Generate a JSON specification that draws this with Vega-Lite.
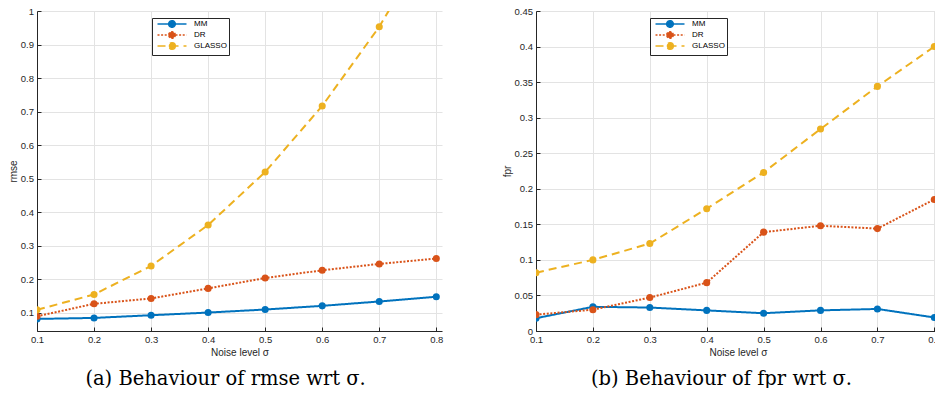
{
  "$schema": "https://vega.github.io/schema/vega-lite/v6.json",
  "background": "white",
  "padding": {"left": 8, "top": 6, "right": 0, "bottom": 0},
  "config": {
    "view": {"stroke": null},
    "font": "Liberation Sans",
    "axis": {
      "domainColor": "#262626", "domainWidth": 1, "tickColor": "#262626", "tickSize": -4, "tickWidth": 1,
      "gridColor": "#e3e3e3", "gridWidth": 1,
      "labelColor": "#262626", "labelFontSize": 9.5, "labelFont": "Liberation Sans",
      "titleColor": "#262626", "titleFontSize": 10, "titleFontWeight": "normal", "titleFont": "Liberation Sans",
      "labelFlush": false, "labelOverlap": false
    },
    "axisX": {"labelPadding": 7, "titlePadding": 4},
    "axisY": {"labelPadding": 7.5, "titlePadding": 2},
    "legend": {
      "orient": "none", "legendX": 115, "legendY": 7, "title": null,
      "fillColor": "white", "strokeColor": "#262626", "padding": 2,
      "symbolType": "M-4.83,0L4.83,0M1.1,0C1.1,0.6075,0.6075,1.1,0,1.1C-0.6075,1.1,-1.1,0.6075,-1.1,0C-1.1,-0.6075,-0.6075,-1.1,0,-1.1C0.6075,-1.1,1.1,-0.6075,1.1,0Z",
      "symbolSize": 36, "symbolStrokeWidth": 1.5,
      "labelFontSize": 8, "labelColor": "black", "labelFont": "Liberation Sans",
      "rowPadding": -6, "symbolOffset": 14, "labelOffset": 18
    },
    "title": {"font": "DejaVu Serif", "fontSize": 19.5, "fontWeight": "normal", "color": "black"}
  },
  "datasets": {
    "rmse": [
      {"sigma": 0.1, "method": "MM", "value": 0.082},
      {"sigma": 0.2, "method": "MM", "value": 0.085},
      {"sigma": 0.3, "method": "MM", "value": 0.093},
      {"sigma": 0.4, "method": "MM", "value": 0.101},
      {"sigma": 0.5, "method": "MM", "value": 0.110},
      {"sigma": 0.6, "method": "MM", "value": 0.121},
      {"sigma": 0.7, "method": "MM", "value": 0.134},
      {"sigma": 0.8, "method": "MM", "value": 0.148},
      {"sigma": 0.1, "method": "DR", "value": 0.090},
      {"sigma": 0.2, "method": "DR", "value": 0.127},
      {"sigma": 0.3, "method": "DR", "value": 0.143},
      {"sigma": 0.4, "method": "DR", "value": 0.173},
      {"sigma": 0.5, "method": "DR", "value": 0.204},
      {"sigma": 0.6, "method": "DR", "value": 0.227},
      {"sigma": 0.7, "method": "DR", "value": 0.246},
      {"sigma": 0.8, "method": "DR", "value": 0.262},
      {"sigma": 0.1, "method": "GLASSO", "value": 0.109},
      {"sigma": 0.2, "method": "GLASSO", "value": 0.155},
      {"sigma": 0.3, "method": "GLASSO", "value": 0.240},
      {"sigma": 0.4, "method": "GLASSO", "value": 0.362},
      {"sigma": 0.5, "method": "GLASSO", "value": 0.520},
      {"sigma": 0.6, "method": "GLASSO", "value": 0.717},
      {"sigma": 0.7, "method": "GLASSO", "value": 0.953},
      {"sigma": 0.8, "method": "GLASSO", "value": 1.24}
    ],
    "fpr": [
      {"sigma": 0.1, "method": "MM", "value": 0.018},
      {"sigma": 0.2, "method": "MM", "value": 0.034},
      {"sigma": 0.3, "method": "MM", "value": 0.033},
      {"sigma": 0.4, "method": "MM", "value": 0.029},
      {"sigma": 0.5, "method": "MM", "value": 0.025},
      {"sigma": 0.6, "method": "MM", "value": 0.029},
      {"sigma": 0.7, "method": "MM", "value": 0.031},
      {"sigma": 0.8, "method": "MM", "value": 0.019},
      {"sigma": 0.1, "method": "DR", "value": 0.023},
      {"sigma": 0.2, "method": "DR", "value": 0.030},
      {"sigma": 0.3, "method": "DR", "value": 0.047},
      {"sigma": 0.4, "method": "DR", "value": 0.068},
      {"sigma": 0.5, "method": "DR", "value": 0.139},
      {"sigma": 0.6, "method": "DR", "value": 0.148},
      {"sigma": 0.7, "method": "DR", "value": 0.144},
      {"sigma": 0.8, "method": "DR", "value": 0.185},
      {"sigma": 0.1, "method": "GLASSO", "value": 0.082},
      {"sigma": 0.2, "method": "GLASSO", "value": 0.100},
      {"sigma": 0.3, "method": "GLASSO", "value": 0.123},
      {"sigma": 0.4, "method": "GLASSO", "value": 0.172},
      {"sigma": 0.5, "method": "GLASSO", "value": 0.223},
      {"sigma": 0.6, "method": "GLASSO", "value": 0.284},
      {"sigma": 0.7, "method": "GLASSO", "value": 0.344},
      {"sigma": 0.8, "method": "GLASSO", "value": 0.400}
    ]
  },
  "spacing": 59,
  "resolve": {"legend": {"color": "independent", "strokeDash": "independent"}},
  "hconcat": [
    {
      "width": 405, "height": 320,
      "data": {"name": "rmse"},
      "title": {"text": "(a) Behaviour of rmse wrt σ.", "orient": "bottom", "anchor": "middle", "frame": "bounds", "offset": 12},
      "encoding": {
        "x": {"field": "sigma", "type": "quantitative", "scale": {"domain": [0.1, 0.81], "nice": false, "zero": false},
              "axis": {"values": [0.1, 0.2, 0.3, 0.4, 0.5, 0.6, 0.7, 0.8], "format": "~g", "title": "Noise level σ"}},
        "y": {"field": "value", "type": "quantitative", "scale": {"domain": [0.046, 1], "nice": false, "zero": false},
              "axis": {"values": [0.1, 0.2, 0.3, 0.4, 0.5, 0.6, 0.7, 0.8, 0.9, 1], "format": "~g", "title": "rmse"}},
        "color": {"field": "method", "type": "nominal",
                  "scale": {"domain": ["MM", "DR", "GLASSO"], "range": ["#0072BD", "#D95319", "#EDB120"]},
                  "legend": {"encode": {"symbols": {"update": {"fill": {"scale": "color", "field": "value"}}}}}}
      },
      "layer": [
        {
          "mark": {"type": "line", "strokeWidth": 2, "clip": true},
          "encoding": {
            "strokeDash": {"field": "method", "type": "nominal",
                           "scale": {"domain": ["MM", "DR", "GLASSO"], "range": [[1, 0], [2, 1.6], [8, 5]]},
                           "legend": {"encode": {"symbols": {"update": {"fill": {"scale": "color", "field": "value"}}}}}}
          }
        },
        {
          "mark": {"type": "point", "filled": true, "size": 50, "opacity": 1, "clip": true},
          "encoding": {}
        }
      ]
    },
    {
      "width": 404, "height": 320,
      "data": {"name": "fpr"},
      "title": {"text": "(b) Behaviour of fpr wrt σ.", "orient": "bottom", "anchor": "middle", "frame": "bounds", "offset": 12},
      "encoding": {
        "x": {"field": "sigma", "type": "quantitative", "scale": {"domain": [0.1, 0.81], "nice": false, "zero": false},
              "axis": {"values": [0.1, 0.2, 0.3, 0.4, 0.5, 0.6, 0.7, 0.8], "format": "~g", "title": "Noise level σ"}},
        "y": {"field": "value", "type": "quantitative", "scale": {"domain": [0, 0.45], "nice": false, "zero": false},
              "axis": {"values": [0, 0.05, 0.1, 0.15, 0.2, 0.25, 0.3, 0.35, 0.4, 0.45], "format": "~g", "title": "fpr"}},
        "color": {"field": "method", "type": "nominal",
                  "scale": {"domain": ["MM", "DR", "GLASSO"], "range": ["#0072BD", "#D95319", "#EDB120"]},
                  "legend": {"legendX": 114, "encode": {"symbols": {"update": {"fill": {"scale": "color", "field": "value"}}}}}}
      },
      "layer": [
        {
          "mark": {"type": "line", "strokeWidth": 2, "clip": true},
          "encoding": {
            "strokeDash": {"field": "method", "type": "nominal",
                           "scale": {"domain": ["MM", "DR", "GLASSO"], "range": [[1, 0], [2, 1.6], [8, 5]]},
                           "legend": {"legendX": 114, "encode": {"symbols": {"update": {"fill": {"scale": "color", "field": "value"}}}}}}
          }
        },
        {
          "mark": {"type": "point", "filled": true, "size": 50, "opacity": 1, "clip": true},
          "encoding": {}
        }
      ]
    }
  ]
}
